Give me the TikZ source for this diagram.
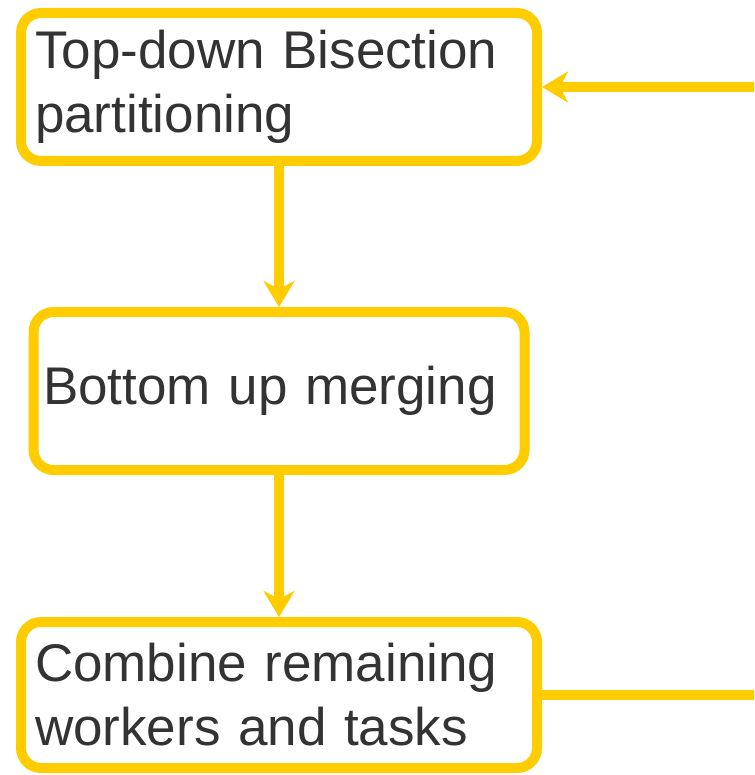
\documentclass[tikz,border=0pt]{standalone}
\usepackage{fontspec}
\setmainfont{Liberation Sans}[WordSpace=0.8]
\usepackage{xcolor}
\usetikzlibrary{arrows.meta}
\definecolor{flowyellow}{HTML}{FFCC00}
\definecolor{flowtext}{HTML}{333333}
\tikzstyle{process} = [rectangle, rounded corners=10pt, draw=flowyellow, line width=5pt, text=flowtext, minimum width=258pt, minimum height=74pt, text width=244pt, align=left, inner xsep=7pt, font=\fontsize{26.5}{32}\selectfont]
\tikzstyle{arrow} = [draw=flowyellow, line width=5pt, -{Stealth[length=13pt,width=15.5pt,inset=4pt]}]

\begin{document}
\begin{tikzpicture}[x=0.5pt, y=-0.5pt, node distance=152pt]
   \useasboundingbox (0,0) rectangle (754,775);
   \clip (0,0) rectangle (754,775);
   \node (topdown) [process] at (279,87) {Top-down Bisection\\partitioning};
   \node (merge) [process, below of=topdown, minimum width=245.5pt, text width=236pt, inner xsep=4.75pt, minimum height=79pt] {Bottom up merging};
   \node (combine) [process, below of=merge, minimum height=73pt] {Combine remaining\\workers and tasks};
   \draw [arrow] (topdown) -- (merge);
   \draw [arrow] (merge) -- (combine);
   % loop back runs off past the right edge
   \draw [arrow] (combine.east) -- ++(300,0) |- (topdown.east);
\end{tikzpicture}
\end{document}
